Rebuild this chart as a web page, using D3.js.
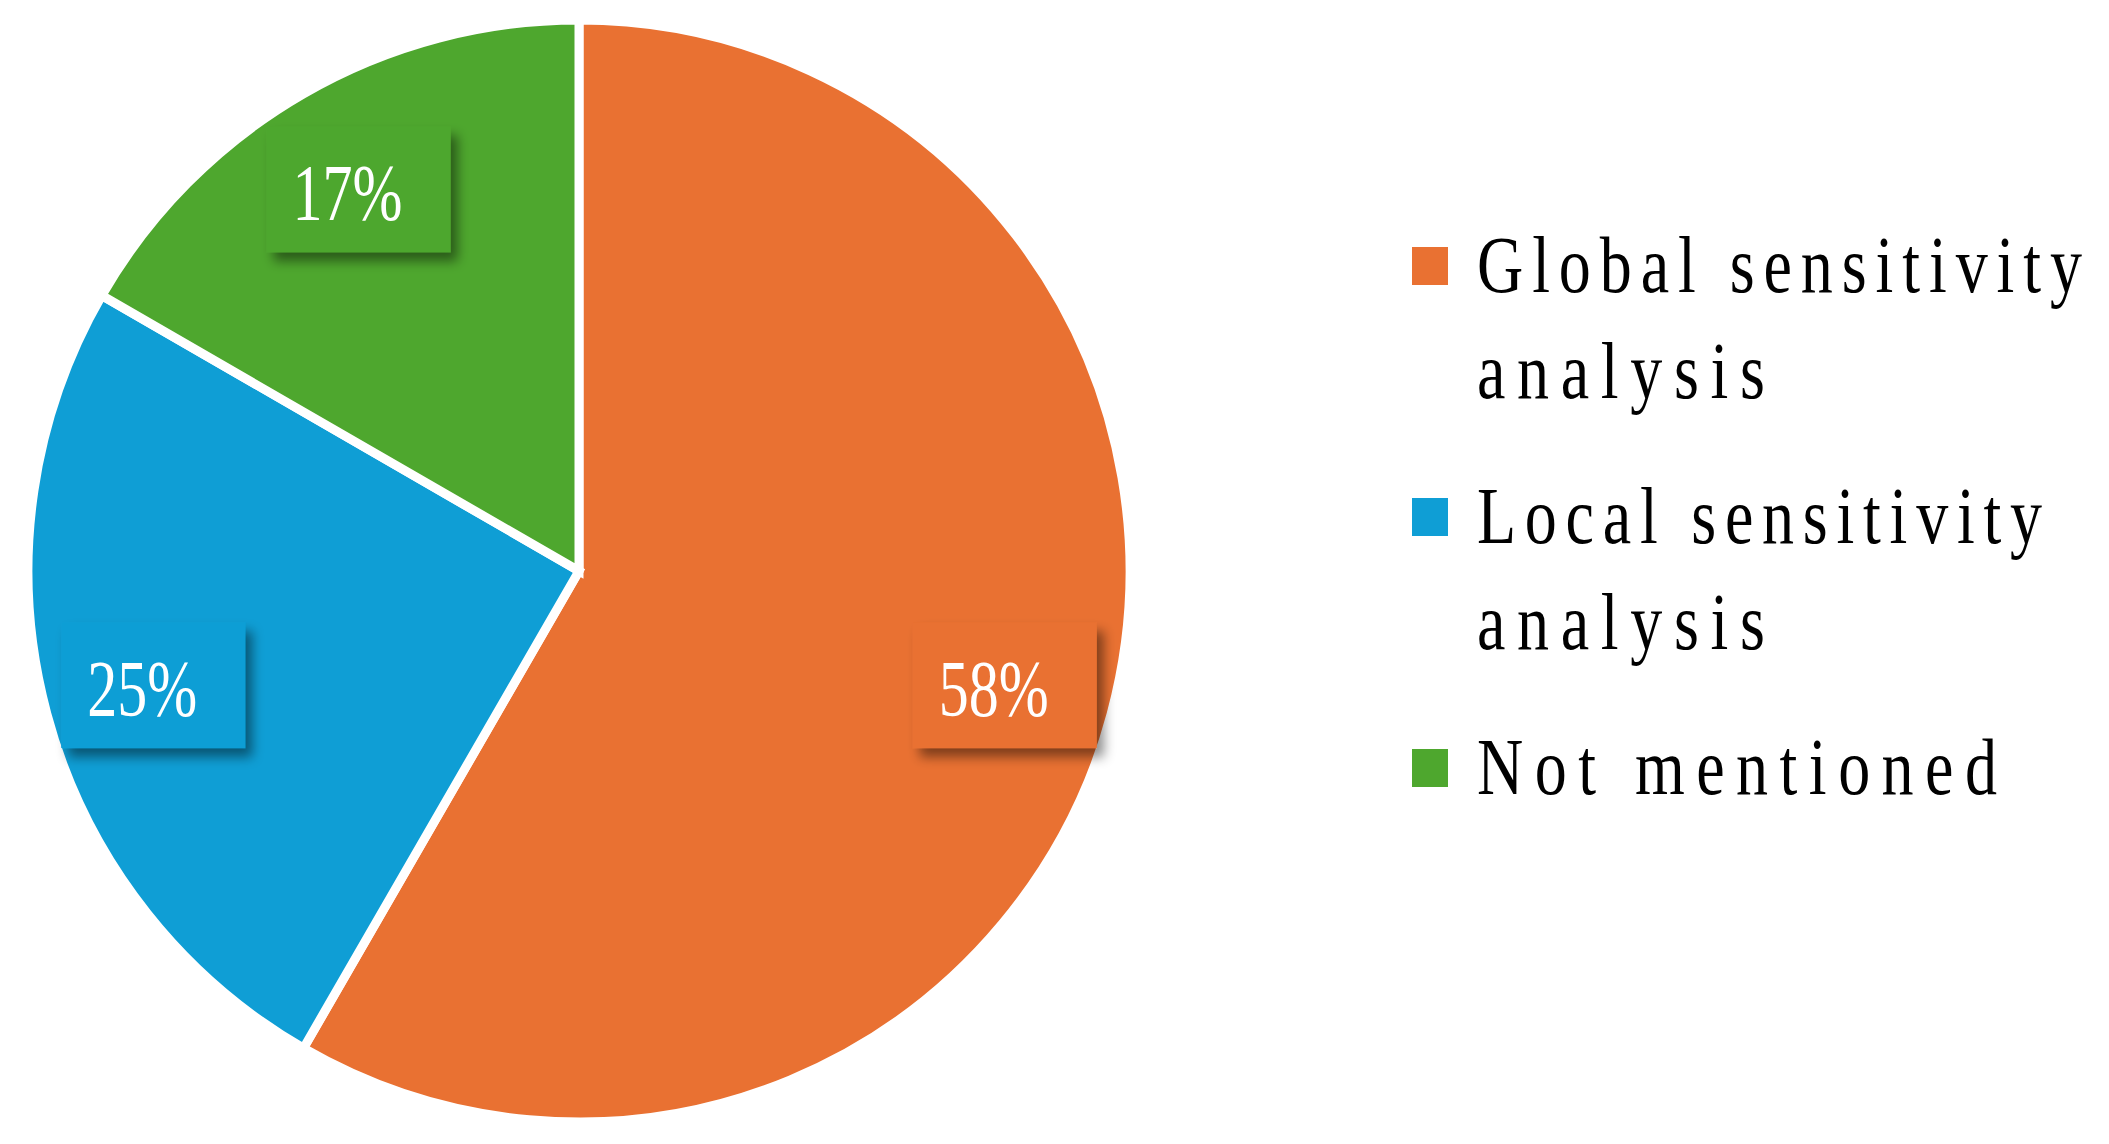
<!DOCTYPE html>
<html>
<head>
<meta charset="utf-8">
<script src="https://cdn.jsdelivr.net/npm/d3@7"></script>
<style>
  html, body { margin: 0; padding: 0; background: #ffffff; }
  svg { display: block; }
</style>
</head>
<body>
<svg id="chart" width="2109" height="1144"></svg>
<script>
// ---- data ----
const categories = ["Global sensitivity analysis", "Local sensitivity analysis", "Not mentioned"];
const counts = [7, 3, 2];                       // shares 58%, 25%, 17%
const colors = ["#E97132", "#0F9ED5", "#4EA72E"];
const legendLines = [
  ["Global sensitivity", "analysis"],
  ["Local sensitivity", "analysis"],
  ["Not mentioned"]
];

// ---- layout ----
const W = 2109, H = 1144;
const cx = 579, cy = 571, R = 551;
const svg = d3.select("#chart");

const defs = svg.append("defs");
const f = defs.append("filter").attr("id", "shadow")
  .attr("x", "-30%").attr("y", "-30%").attr("width", "160%").attr("height", "170%");
f.append("feDropShadow").attr("dx", 7).attr("dy", 9).attr("stdDeviation", 6)
  .attr("flood-color", "#000").attr("flood-opacity", 0.45);

const data = categories.map((c, i) => ({ cat: c, value: counts[i], color: colors[i] }));
const total = d3.sum(counts);
const pct = d3.format(".0%");

const pie = d3.pie().value(d => d.value).sort(null).startAngle(0).endAngle(2 * Math.PI);
const arcs = pie(data);
const arc = d3.arc().innerRadius(0).outerRadius(R);
const labelArc = d3.arc().innerRadius(R * 0.8).outerRadius(R * 0.8);

const g = svg.append("g").attr("transform", `translate(${cx},${cy})`);
g.selectAll("path.slice").data(arcs).join("path")
  .attr("class", "slice")
  .attr("d", arc)
  .attr("fill", d => d.data.color)
  .attr("stroke", "#ffffff")
  .attr("stroke-width", 9)
  .attr("stroke-linejoin", "miter");

// data labels with boxes
const boxW = 184, boxH = 126;
const lab = g.selectAll("g.lab").data(arcs).join("g")
  .attr("class", "lab")
  .attr("transform", d => { const [x, y] = labelArc.centroid(d); return `translate(${x},${y})`; });
lab.append("rect")
  .attr("x", -boxW / 2).attr("y", -boxH / 2)
  .attr("width", boxW).attr("height", boxH)
  .attr("fill", d => d.data.color)
  .attr("filter", "url(#shadow)");
lab.append("text")
  .attr("x", -boxW / 2 + 26).attr("y", 31)
  .attr("font-family", "'Liberation Serif', 'DejaVu Serif', serif")
  .attr("font-size", 80)
  .attr("fill", "#ffffff")
  .attr("textLength", 110)
  .attr("lengthAdjust", "spacingAndGlyphs")
  .text(d => pct(d.data.value / total));

// legend
const legX = 1412, textX = 1477;
const firstBase = 292, lineH = 106, entryGap = 251;
const lineWidths = [[605, 288], [565, 288], [520]];
const sx = 0.8;
const leg = svg.append("g");
data.forEach((d, i) => {
  const base = firstBase + i * entryGap;
  leg.append("rect")
    .attr("x", legX).attr("y", base - 26 - 19)
    .attr("width", 36).attr("height", 38)
    .attr("fill", d.color);
  legendLines[i].forEach((line, j) => {
    const t = leg.append("g")
      .attr("transform", `translate(${textX},${base + j * lineH}) scale(${sx},1)`);
    t.append("text")
      .attr("x", 0).attr("y", 0)
      .attr("font-family", "'Liberation Serif', 'DejaVu Serif', serif")
      .attr("font-size", 80)
      .attr("fill", "#000000")
      .attr("textLength", lineWidths[i][j] / sx)
      .attr("lengthAdjust", "spacing")
      .text(line);
  });
});
</script>
</body>
</html>
